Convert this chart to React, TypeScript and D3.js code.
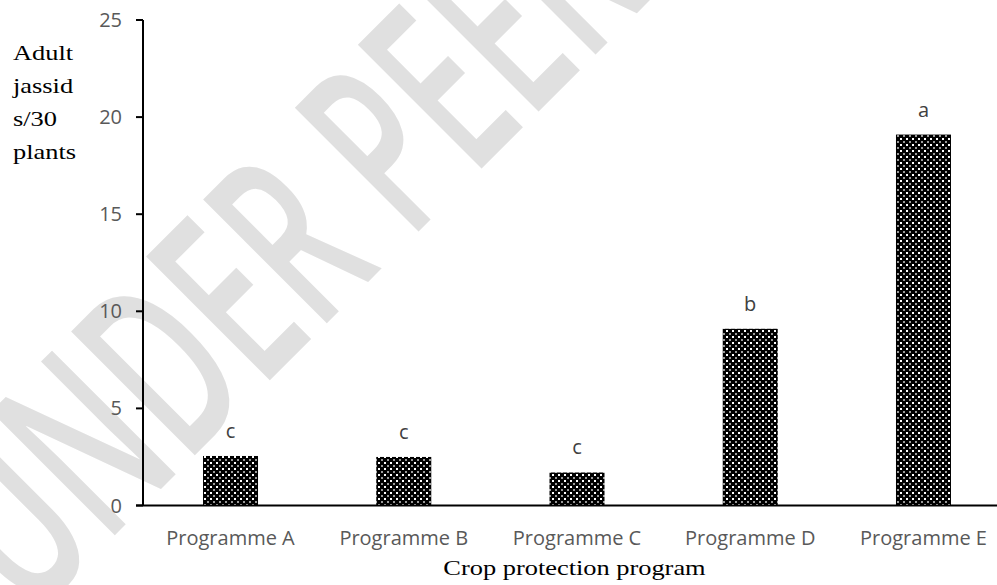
import React from "react";
import * as d3 from "d3";

const categories = ["Programme A", "Programme B", "Programme C", "Programme D", "Programme E"];
const values = [2.55, 2.5, 1.7, 9.1, 19.1];
const letters = ["c", "c", "c", "b", "a"];
const yTicks = [0, 5, 10, 15, 20, 25];
const yTitleLines = ["Adult", "jassid", "s/30", "plants"];
const xTitle = "Crop protection program";
const watermark = "UNDER PEER REVIEW";

export default function App() {
  const W = 997, H = 585;
  const x0 = 143.9, x1 = 1010.1;
  const y = d3.scaleLinear().domain([0, 25]).range([505.5, 20]);
  const x = d3.scaleBand<string>().domain(categories).range([x0, x1])
    .paddingInner(0.6825).paddingOuter(0.34125);
  const sans = "'Open Sans', sans-serif";
  const serif = "'Liberation Serif', 'Times New Roman', serif";
  return (
    <svg width={W} height={H} style={{ position: "absolute", left: 0, top: 0, background: "#fff" }}>
      <defs>
        <pattern id="pat" width={6} height={6} patternUnits="userSpaceOnUse">
          <rect width={6} height={6} fill="#000" />
          <rect x={0} y={0} width={2} height={2} fill="#fff" />
          <rect x={3} y={3} width={2} height={2} fill="#9a9a9a" />
        </pattern>
      </defs>
      <rect width={W} height={H} fill="#fff" />
      <text transform="translate(29.4,620.6) rotate(-45) scale(0.59,1)" fontFamily={sans}
        fontWeight={600} fontSize={245} fill="#e0e0e0">{watermark}</text>
      {categories.map((c, i) => (
        <g key={c}>
          <rect x={x(c)} y={y(values[i])} width={x.bandwidth()} height={y(0) - y(values[i])} fill="url(#pat)" />
          <text x={(x(c) as number) + x.bandwidth() / 2} y={y(values[i]) - 18} textAnchor="middle"
            fontFamily={sans} fontSize={20} fill="#404040">{letters[i]}</text>
          <text x={(x(c) as number) + x.bandwidth() / 2} y={545} textAnchor="middle"
            fontFamily={sans} fontSize={20} fill="#595959">{c}</text>
        </g>
      ))}
      <line x1={143} x2={143} y1={y(25)} y2={y(0)} stroke="#000" strokeWidth={2} />
      <line x1={136} x2={W} y1={y(0)} y2={y(0)} stroke="#000" strokeWidth={2} />
      {yTicks.map(t => (
        <g key={t}>
          <line x1={136} x2={143} y1={y(t)} y2={y(t)} stroke="#000" strokeWidth={2} />
          <text x={122} y={y(t)} dy="0.35em" textAnchor="end" fontFamily={sans} fontSize={20} fill="#595959">{t}</text>
        </g>
      ))}
      {yTitleLines.map((l, i) => (
        <text key={l} transform={`translate(13,${60 + i * 33}) scale(1.2,1)`} fontFamily={serif}
          fontSize={22} fill="#000">{l}</text>
      ))}
      <text transform="translate(574.5,575) scale(1.2,1)" textAnchor="middle" fontFamily={serif}
        fontSize={22} fill="#000">{xTitle}</text>
    </svg>
  );
}
